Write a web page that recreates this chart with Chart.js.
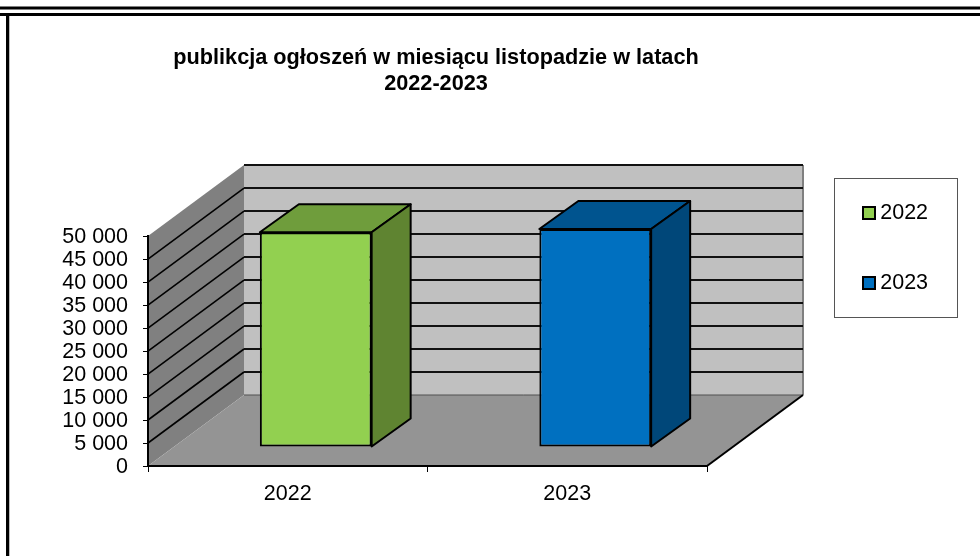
<!DOCTYPE html>
<html lang="pl">
<head>
<meta charset="utf-8">
<title>publikcja ogłoszeń</title>
<script src="https://cdn.jsdelivr.net/npm/chart.js@4"></script>
<style>
  html, body { margin: 0; background: #fff; }
  canvas { display: block; }
</style>
</head>
<body>
<canvas id="myChart" width="980" height="556"></canvas>
<script>
const categories = ["2022", "2023"];
const values2022 = [46700, null];
const values2023 = [null, 47400];
const yTickLabels = ["0", "5 000", "10 000", "15 000", "20 000", "25 000", "30 000", "35 000", "40 000", "45 000", "50 000"];
const titleLines = ["publikcja ogłoszeń w miesiącu listopadzie w latach", "2022-2023"];

const FONT = "'Liberation Sans', Arial, sans-serif";

// how far the back wall and the bars sit behind the axis plane
const wall = { dx: 96, dy: -71 };
const barShift = { dx: 28, dy: -19 };
const barDepth = { dx: 39, dy: -28 };
const barShades = [
  { top: "#6F9D3C", side: "#5F8431" },
  { top: "#00548F", side: "#004779" },
];

function poly(c, pts, fill, stroke, lw) {
  c.beginPath();
  pts.forEach((p, i) => (i ? c.lineTo(p[0], p[1]) : c.moveTo(p[0], p[1])));
  c.closePath();
  if (fill) {
    c.fillStyle = fill;
    c.fill();
  }
  if (stroke) {
    c.strokeStyle = stroke;
    c.lineWidth = lw;
    c.stroke();
  }
}

function line(c, x1, y1, x2, y2, color, lw) {
  c.beginPath();
  c.moveTo(x1, y1);
  c.lineTo(x2, y2);
  c.strokeStyle = color;
  c.lineWidth = lw;
  c.stroke();
}

const scene = {
  id: "scene",
  afterLayout(chart) {
    // title is centred over the plot, not the page
    chart.titleBlock.left = 0;
    chart.titleBlock.right = 872;
    // legend sits in its own box right of the plot
    const legend = chart.legend;
    legend.left = 820;
    legend.right = 960;
    legend.top = 153.75;
    legend.bottom = 400;
  },
  beforeDraw(chart) {
    const c = chart.ctx;
    const { left, right, top, bottom } = chart.chartArea;
    const y = chart.scales.y;
    const dx = wall.dx;
    const dy = wall.dy;
    c.save();

    // page frame
    line(c, 0, 8, chart.width, 8, "#000", 3);
    line(c, 0, 14.5, chart.width, 14.5, "#000", 3);
    c.fillStyle = "#000";
    c.fillRect(6, 13, 3, chart.height - 13);
    c.fillStyle = "#bbb";
    c.fillRect(9, 16, 1, chart.height - 16);

    // legend box
    c.strokeStyle = "#555";
    c.lineWidth = 1;
    c.strokeRect(834.5, 178.5, 123, 139);

    // walls and floor
    poly(c, [[left + dx, top + dy], [right + dx, top + dy], [right + dx, bottom + dy], [left + dx, bottom + dy]], "#C0C0C0");
    poly(c, [[left, bottom], [left, top], [left + dx, top + dy], [left + dx, bottom + dy]], "#808080");
    poly(c, [[left, bottom], [right, bottom], [right + dx, bottom + dy], [left + dx, bottom + dy]], "#949494");

    line(c, right + dx, top + dy, right + dx, bottom + dy, "#808080", 2);
    line(c, left + dx, bottom + dy, right + dx, bottom + dy, "#505050", 1);

    // gridlines run along the side wall then the back wall
    y.ticks.forEach((t) => {
      if (t.value === 0) return;
      const py = y.getPixelForValue(t.value);
      if (t.value < y.max) line(c, left, py, left + dx, py + dy, "#000", 1.6);
      line(c, left + dx, py + dy, right + dx, py + dy, "#111", 2);
    });

    line(c, right, bottom, right + dx, bottom + dy, "#000", 2);
    c.restore();
  },
  beforeDatasetDraw(chart) {
    chart.ctx.save();
    chart.ctx.translate(barShift.dx, barShift.dy);
  },
  afterDatasetDraw(chart, args) {
    const c = chart.ctx;
    const shade = barShades[args.index];
    chart.getDatasetMeta(args.index).data.forEach((bar, i) => {
      if (chart.data.datasets[args.index].data[i] == null) return;
      const { x, y, base, width } = bar.getProps(["x", "y", "base", "width"]);
      const l = x - width / 2;
      const r = x + width / 2;
      const dx = barDepth.dx;
      const dy = barDepth.dy;
      c.lineJoin = "round";
      poly(c, [[l, y], [l + dx, y + dy], [r + dx, y + dy], [r, y]], shade.top, "#000", 2);
      poly(c, [[r, y], [r + dx, y + dy], [r + dx, base + dy], [r, base]], shade.side, "#000", 2);
    });
    c.restore();
  },
};

new Chart(document.getElementById("myChart"), {
  type: "bar",
  data: {
    labels: categories,
    datasets: [
      { label: "2022", data: values2022, backgroundColor: "#92D050", borderColor: "#000", borderWidth: 2, borderSkipped: false, clip: false },
      { label: "2023", data: values2023, backgroundColor: "#0070C0", borderColor: "#000", borderWidth: 2, borderSkipped: false, clip: false },
    ],
  },
  options: {
    responsive: false,
    animation: false,
    events: [],
    layout: { padding: { left: 0, right: 273, top: 0, bottom: 0 } },
    datasets: { bar: { barPercentage: 0.8, categoryPercentage: 0.5 } },
    scales: {
      x: {
        stacked: true,
        afterFit: (s) => { s.height = 90; },
        grid: { drawOnChartArea: false, tickLength: 6, tickColor: "#000", tickWidth: 1 },
        border: { color: "#000", width: 2 },
        ticks: { color: "#000", padding: 9, maxRotation: 0, font: { family: FONT, size: 21.5 } },
      },
      y: {
        stacked: true,
        min: 0,
        max: 50000,
        afterFit: (s) => { s.width = 148; },
        grid: { drawOnChartArea: false, tickLength: 5, tickColor: "#000", tickWidth: 1 },
        border: { color: "#000", width: 2 },
        ticks: {
          stepSize: 5000,
          autoSkip: false,
          color: "#000",
          padding: 15,
          labelOffset: 1,
          font: { family: FONT, size: 21.5 },
          callback: (v, i) => yTickLabels[i],
        },
      },
    },
    plugins: {
      tooltip: { enabled: false },
      title: {
        display: true,
        text: titleLines,
        color: "#000",
        font: { family: FONT, size: 21.7, weight: "bold", lineHeight: 1.2 },
        padding: { top: 45, bottom: 139 },
      },
      legend: {
        position: "chartArea",
        align: "start",
        labels: {
          color: "#000",
          boxWidth: 1,
          boxHeight: 12,
          usePointStyle: true,
          pointStyle: "rect",
          padding: 48.5,
          font: { family: FONT, size: 21.5 },
        },
      },
    },
  },
  plugins: [scene],
});
</script>
</body>
</html>
